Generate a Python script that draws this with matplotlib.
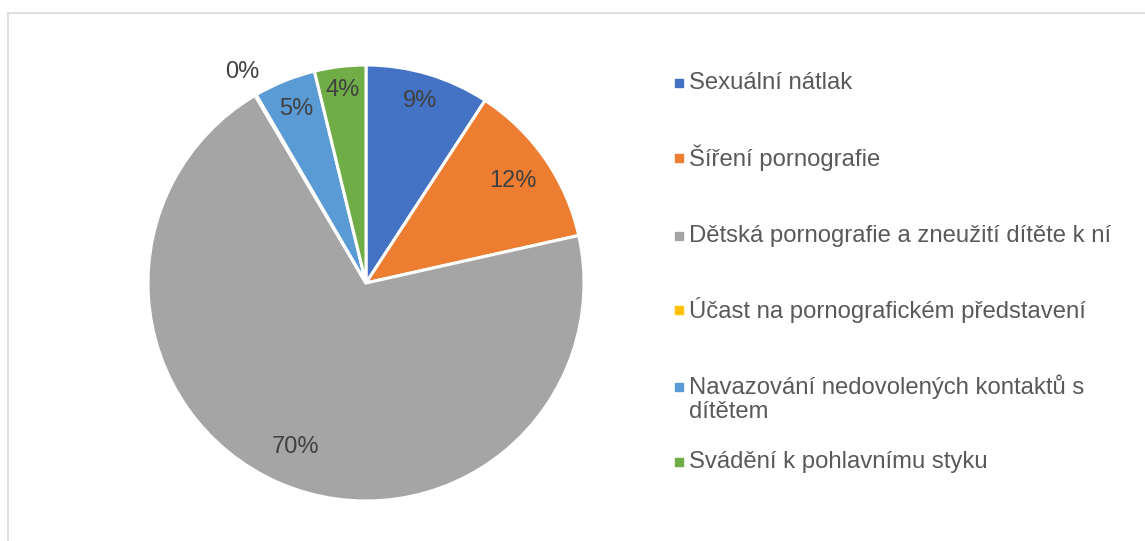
import numpy as np
import matplotlib.pyplot as plt
from matplotlib.lines import Line2D

plt.rcParams["font.family"] = ["Liberation Sans", "DejaVu Sans"]

# data (shares in %)
categories = [
    "Sexuální nátlak",
    "Šíření pornografie",
    "Dětská pornografie a zneužití dítěte k ní",
    "Účast na pornografickém představení",
    "Navazování nedovolených kontaktů s\ndítětem",
    "Svádění k pohlavnímu styku",
]
shares = [9.2, 12.3, 70.0, 0.1, 4.6, 3.8]
colors = ["#4472C4", "#ED7D31", "#A5A5A5", "#FFC000", "#5B9BD5", "#70AD47"]

W, H = 1145, 541
fig = plt.figure(figsize=(W / 100, H / 100), dpi=100)

# chart frame (top + left visible only)
fig.add_artist(Line2D([7.5 / W, 1.0], [1 - 13 / H, 1 - 13 / H],
                      color="#D9D9D9", lw=1.2, transform=fig.transFigure))
fig.add_artist(Line2D([7.5 / W, 7.5 / W], [0, 1 - 13 / H],
                      color="#D9D9D9", lw=1.2, transform=fig.transFigure))

cx, cy, r = 366, 283, 218
ax = fig.add_axes([(cx - r) / W, (H - cy - r) / H, 2 * r / W, 2 * r / H])
wedges, _ = ax.pie(shares, colors=colors, startangle=90, counterclock=False,
                   radius=1.0, wedgeprops=dict(edgecolor="white", linewidth=2.2))
ax.set_xlim(-1, 1)
ax.set_ylim(-1, 1)
ax.set_aspect("equal")
ax.axis("off")

label_r = [0.87, 0.82, 0.82, 1.12, 0.86, 0.89]
for w, v, lr in zip(wedges, shares, label_r):
    mid = np.deg2rad((w.theta1 + w.theta2) / 2)
    ax.text(lr * np.cos(mid), lr * np.sin(mid), f"{round(v):.0f}%",
            ha="center", va="center", fontsize=17, color="#404040")

# legend, drawn by hand to match spacing (marker sits on first text line)
leg_y = [83, 158, 236, 310, 387, 462]
line_h = 24
for lab, c, y in zip(categories, colors, leg_y):
    fig.add_artist(Line2D([679 / W], [1 - y / H], marker="s", markersize=5.5,
                          color=c, lw=0, transform=fig.transFigure))
    n_lines = lab.count("\n") + 1
    yc = y + (n_lines - 1) * line_h / 2
    fig.text(689 / W, 1 - yc / H, lab, ha="left", va="center",
             fontsize=17.2, color="#595959", linespacing=1.1)

fig.savefig("out.png", dpi=100)
